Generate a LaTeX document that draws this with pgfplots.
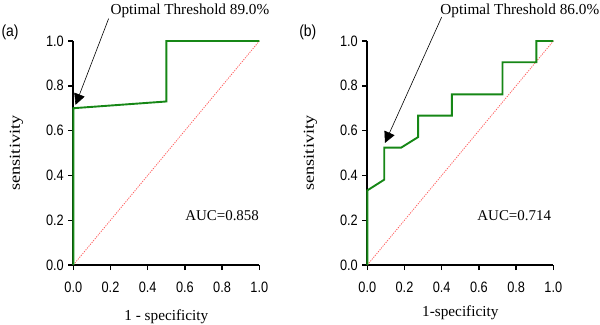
\documentclass[border=0pt]{standalone}
\usepackage{fontspec}
\setmainfont{Liberation Serif}
\newfontfamily\arial{Liberation Sans}
\usepackage{pgfplots}
\pgfplotsset{compat=1.18}
\usetikzlibrary{arrows.meta}
\definecolor{rocgreen}{RGB}{22,135,22}
\definecolor{diagred}{RGB}{255,95,95}
\pgfplotsset{
  rocax/.style={
    scale only axis, width=186bp, height=224bp,
    xmin=0, xmax=1, ymin=0, ymax=1,
    axis lines=left, axis line style={-, line width=2bp, black},
    tick align=outside, major tick length=5bp,
    tick style={line width=1.4bp, black},
    xtick={0,0.2,...,1.0}, ytick={0,0.2,...,1.0},
    /pgf/number format/.cd, fixed, fixed zerofill, precision=1, assume math mode=true,
    /pgfplots/.cd,
    tick label style={font=\arial\fontsize{12.8}{15}\selectfont, yscale=1.18},
    xticklabel style={yshift=-7bp},
    yticklabel style={xshift=-1bp},
    label style={font=\fontsize{15.3}{18}\selectfont},
    ylabel style={xscale=1.2, yshift=16bp},
    clip=false,
  }
}
\begin{document}
\begin{tikzpicture}[x=1bp,y=1bp]
\useasboundingbox (0,0) rectangle (600,-324);
% Panel (a)
\begin{axis}[rocax, at={(73.3bp,-265bp)}, anchor=south west,
  xlabel={1 - specificity}, ylabel={sensitivity},
  xlabel style={yshift=-9bp}]
\addplot[diagred, line width=0.8bp, dash pattern=on 1.2bp off 1.2bp] coordinates {(0,0) (1,1)};
\addplot[rocgreen, line width=1.9bp] coordinates {(0,0) (0,0.70) (0.5,0.73) (0.5,1) (1,1)};
\draw[-{Triangle[length=11bp,width=11bp]}, line width=0.6bp] (axis cs:0.19,1.10) -- (axis cs:0.012,0.715);
\node[font=\fontsize{15}{18}\selectfont] at (axis cs:0.8,0.22) {AUC=0.858};
\node[font=\fontsize{15.3}{18}\selectfont] at (axis cs:0.627,1.135) {Optimal Threshold 89.0\%};
\node[font=\arial\fontsize{14}{18}\selectfont, yscale=1.15] at (axis cs:-0.34,1.04) {(a)};
\end{axis}
% Panel (b)
\begin{axis}[rocax, at={(367.3bp,-265bp)}, anchor=south west,
  xlabel={1-specificity}, ylabel={sensitivity},
  xlabel style={yshift=-5bp}]
\addplot[diagred, line width=0.8bp, dash pattern=on 1.2bp off 1.2bp] coordinates {(0,0) (1,1)};
\addplot[rocgreen, line width=1.9bp] coordinates {(0,0) (0,0.333) (0.091,0.381) (0.091,0.524) (0.182,0.524) (0.273,0.571) (0.273,0.667) (0.455,0.667) (0.455,0.762) (0.727,0.762) (0.727,0.905) (0.909,0.905) (0.909,1) (1,1)};
\draw[-{Triangle[length=11bp,width=11bp]}, line width=0.6bp] (axis cs:0.40,1.107) -- (axis cs:0.095,0.545);
\node[font=\fontsize{15}{18}\selectfont] at (axis cs:0.79,0.22) {AUC=0.714};
\node[font=\fontsize{15.3}{18}\selectfont] at (axis cs:0.82,1.135) {Optimal Threshold 86.0\%};
\node[font=\arial\fontsize{14}{18}\selectfont, yscale=1.15] at (axis cs:-0.32,1.04) {(b)};
\end{axis}
\end{tikzpicture}
\end{document}
